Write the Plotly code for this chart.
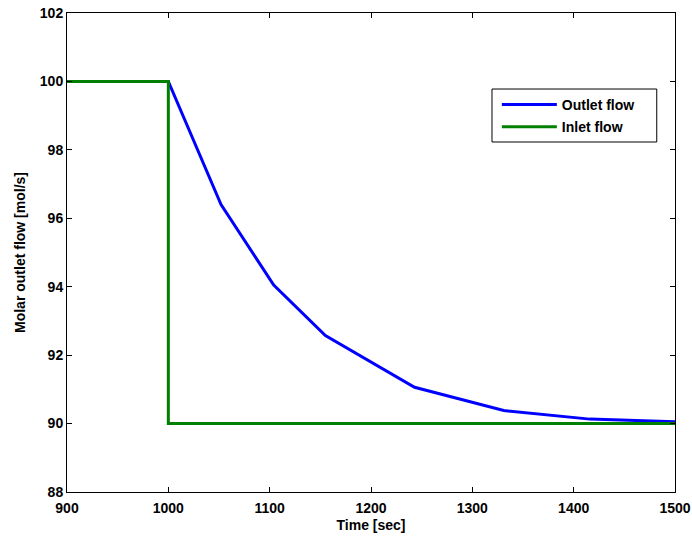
import plotly.graph_objects as go

outlet_t = [900, 1000, 1052, 1104, 1155, 1243, 1331, 1416, 1500]
outlet_f = [100, 100, 96.4, 94.05, 92.57, 91.06, 90.38, 90.13, 90.05]
inlet_t = [900, 1000, 1000, 1500]
inlet_f = [100, 100, 90, 90]

x_ticks = [900, 1000, 1100, 1200, 1300, 1400, 1500]
y_ticks = [88, 90, 92, 94, 96, 98, 100, 102]

FONT = "Liberation Sans, Arial, sans-serif"

fig = go.Figure()
fig.add_trace(go.Scatter(x=outlet_t, y=outlet_f, mode="lines", name="Outlet flow",
                         legendgroup="a",
                         line=dict(color="#0000FF", width=3)))
fig.add_trace(go.Scatter(x=inlet_t, y=inlet_f, mode="lines", name="Inlet flow",
                         legendgroup="b",
                         line=dict(color="#008000", width=3)))

axis_common = dict(showgrid=False, zeroline=False, showline=True, linecolor="black",
                   linewidth=1, mirror="ticks", ticks="inside", ticklen=5,
                   tickcolor="black", automargin=False,
                   tickfont=dict(family=FONT, size=14, color="black", weight="bold"))

fig.update_xaxes(range=[900, 1500], tickvals=x_ticks, ticktext=[str(v) for v in x_ticks],
                 ticklabelstandoff=3,
                 title=dict(text="Time [sec]", standoff=5,
                            font=dict(family=FONT, size=14, color="black", weight="bold")),
                 **axis_common)
fig.update_yaxes(range=[88, 102], tickvals=y_ticks, ticktext=[str(v) for v in y_ticks],
                 title=dict(text="Molar outlet flow [mol/s]", standoff=10,
                            font=dict(family=FONT, size=14, color="black", weight="bold")),
                 **axis_common)

fig.add_shape(type="rect", xref="paper", yref="paper",
              x0=0.699, x1=0.970, y0=0.7307, y1=0.8413,
              line=dict(color="black", width=1), fillcolor="white", layer="below")

fig.update_layout(
    width=692, height=537,
    margin=dict(l=67, r=17, t=13, b=45),
    paper_bgcolor="white", plot_bgcolor="white",
    showlegend=True,
    legend=dict(x=0.707, y=0.8413, xanchor="left", yanchor="top",
                borderwidth=0, bgcolor="rgba(0,0,0,0)",
                itemwidth=55, tracegroupgap=1,
                font=dict(family=FONT, size=14, color="black", weight="bold")),
)

fig.write_html("out.html")
